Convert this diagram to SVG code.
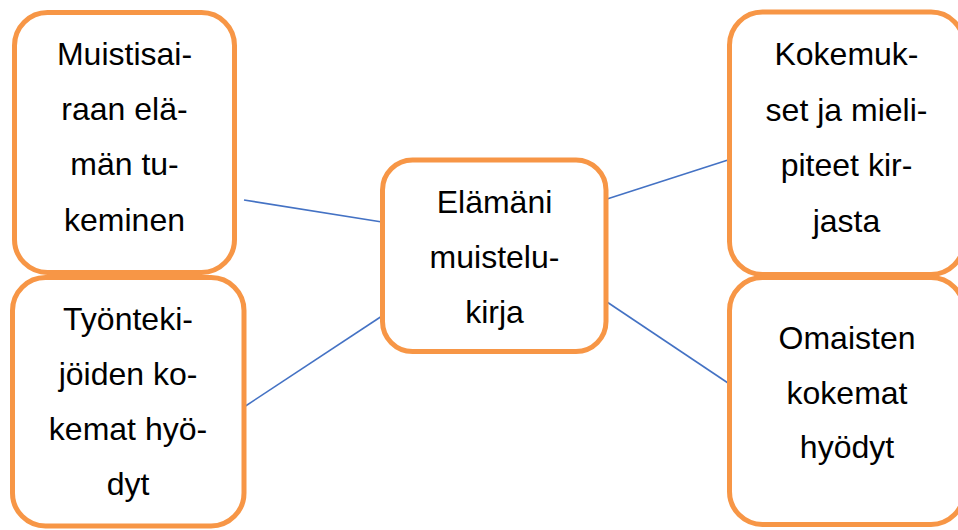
<svg xmlns="http://www.w3.org/2000/svg" width="958" height="530" viewBox="0 0 958 530">
<style>
.box{fill:#ffffff;stroke:#F79646;stroke-width:5}
.lbl{font-family:"Liberation Sans",Arial,sans-serif;font-size:32px;fill:#000000;text-anchor:middle}
.conn{stroke:#4472C4;stroke-width:1.6;fill:none}
</style>
<rect width="958" height="530" fill="#ffffff"/>
<g id="connectors">
<line class="conn" x1="244" y1="200" x2="382" y2="222"/>
<line class="conn" x1="244" y1="407" x2="382" y2="316"/>
<line class="conn" x1="607" y1="199" x2="728" y2="160"/>
<line class="conn" x1="607" y1="302" x2="728" y2="383"/>
</g>
<g id="node-muistisairaan">
<rect class="box" x="14.5" y="12.5" width="220" height="260" rx="33" ry="33"/>
<text class="lbl" x="124.5" y="65">Muistisai-</text>
<text class="lbl" x="124.5" y="120">raan elä-</text>
<text class="lbl" x="124.5" y="175">män tu-</text>
<text class="lbl" x="124.5" y="231">keminen</text>
</g>
<g id="node-tyontekijoiden">
<rect class="box" x="12.5" y="277.5" width="231.5" height="248.5" rx="33" ry="33"/>
<text class="lbl" x="128" y="330">Työnteki-</text>
<text class="lbl" x="128" y="385">jöiden ko-</text>
<text class="lbl" x="128" y="440">kemat hyö-</text>
<text class="lbl" x="128" y="495">dyt</text>
</g>
<g id="node-elamani">
<rect class="box" x="382.5" y="160" width="223.5" height="191.5" rx="30" ry="30"/>
<text class="lbl" x="494.5" y="213">Elämäni</text>
<text class="lbl" x="494.5" y="268">muistelu-</text>
<text class="lbl" x="494.5" y="323">kirja</text>
</g>
<g id="node-kokemukset">
<rect class="box" x="729.5" y="12" width="234.5" height="262.5" rx="33" ry="33"/>
<text class="lbl" x="846.5" y="65">Kokemuk-</text>
<text class="lbl" x="846.5" y="121">set ja mieli-</text>
<text class="lbl" x="846.5" y="176">piteet kir-</text>
<text class="lbl" x="846.5" y="232">jasta</text>
</g>
<g id="node-omaisten">
<rect class="box" x="729.5" y="277.5" width="234.5" height="247" rx="33" ry="33"/>
<text class="lbl" x="847" y="349">Omaisten</text>
<text class="lbl" x="847" y="404">kokemat</text>
<text class="lbl" x="847" y="458">hyödyt</text>
</g>
</svg>
